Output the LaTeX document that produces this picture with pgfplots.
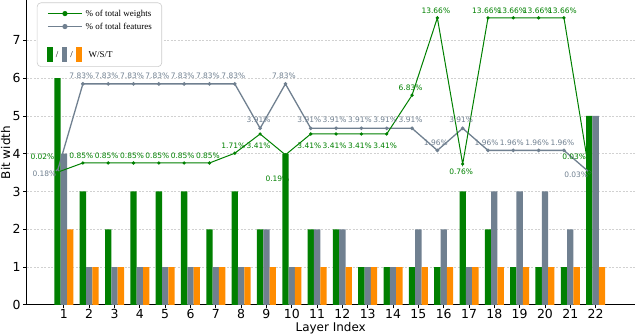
\documentclass[border=0pt]{standalone}
\usepackage{fontspec}
\setmainfont{DejaVu Sans}
\newfontfamily\legfont{Liberation Serif}
\usepackage{pgfplots}
\usepackage{pgfplotstable}
\pgfplotsset{compat=1.18}
\definecolor{wgreen}{HTML}{008000}
\definecolor{sgray}{HTML}{708090}
\definecolor{torange}{HTML}{FF8C00}

% bit widths per layer: W / S / T
\pgfplotstableread{
layer w s t
1  6 4 2
2  3 1 1
3  2 1 1
4  3 1 1
5  3 1 1
6  3 1 1
7  2 1 1
8  3 1 1
9  2 2 1
10 4 1 1
11 2 2 1
12 2 2 1
13 1 1 1
14 1 1 1
15 1 2 1
16 1 2 1
17 3 1 1
18 2 3 1
19 1 3 1
20 1 3 1
21 1 2 1
22 5 5 1
}\bits

% % of total weights, drawn on the bit-width scale
\pgfplotstableread{
x     y
0.75  3.51
1.75  3.755
2.75  3.755
3.75  3.755
4.75  3.755
5.75  3.755
6.75  3.755
7.75  4.013
8.75  4.523
9.75  3.97
10.75 4.523
11.75 4.523
12.75 4.523
13.75 4.523
14.75 5.549
15.75 7.598
16.75 3.728
17.75 7.598
18.75 7.598
19.75 7.598
20.75 7.598
21.75 3.509
}\wtab

% % of total features
\pgfplotstableread{
x     y
0.75  3.55
1.75  5.849
2.75  5.849
3.75  5.849
4.75  5.849
5.75  5.849
6.75  5.849
7.75  5.849
8.75  4.673
9.75  5.849
10.75 4.673
11.75 4.673
12.75 4.673
13.75 4.673
14.75 4.673
15.75 4.088
16.75 4.673
17.75 4.088
18.75 4.088
19.75 4.088
20.75 4.088
21.75 3.509
}\stab

\pgfplotsset{
  lab/.style n args={4}{
    draw=none, mark=none, forget plot,
    nodes near coords, point meta=explicit symbolic,
    every node near coord/.append style={anchor=#2, xshift=#3, yshift=#4,
      inner sep=0pt, font=\fontsize{7.5}{8}\selectfont, text=#1},
  },
}

% legend samples
\newcommand{\lineimg}[1]{\tikz[baseline=-3.2bp]{\draw[#1, line width=1.5bp] (0,0) -- (34bp,0);
  \fill[#1] (17bp,0) circle (2.6bp);}}
\newcommand{\patch}[1]{\textcolor{#1}{\rule[-4.5bp]{5.5bp}{15bp}}}

\begin{document}
\begin{tikzpicture}
\begin{axis}[
  scale only axis,
  width=607bp, height=304bp,
  xmin=-0.463, xmax=23.54,
  ymin=0, ymax=8.06,
  axis x line*=bottom, axis y line*=left,
  axis line style={-, line width=0.8bp, black},
  xtick={1,...,22}, ytick={0,...,7},
  tick align=outside, major tick length=3.5bp,
  tick style={line width=0.8bp, black},
  ymajorgrids,
  grid style={dash pattern=on 2bp off 1.5bp, black!18, line width=0.6bp},
  /pgf/number format/assume math mode=true,
  tick label style={font=\fontsize{12.5}{14}\selectfont},
  xticklabel style={inner sep=1bp},
  yticklabel style={inner sep=2.5bp},
  label style={font=\fontsize{12}{14}\selectfont},
  xlabel={Layer Index},
  ylabel={Bit width},
  xlabel style={at={(axis description cs:0.5,-0.102)}, anchor=south, inner sep=2bp},
  ylabel style={at={(axis description cs:-0.0445,0.5)}, anchor=north, inner sep=1bp},
]
% percentage labels (under the bars)
\addplot[lab={wgreen}{south}{-1.5bp}{4.5bp}] coordinates {
  (1.75,3.755)[0.85\%] (2.75,3.755)[0.85\%] (3.75,3.755)[0.85\%]
  (4.75,3.755)[0.85\%] (5.75,3.755)[0.85\%] (6.75,3.755)[0.85\%]
  (7.75,4.013)[1.71\%] (14.75,5.549)[6.83\%] (15.75,7.598)[13.66\%]
  (17.75,7.598)[13.66\%] (18.75,7.598)[13.66\%] (19.75,7.598)[13.66\%]
  (20.75,7.598)[13.66\%]};
\addplot[lab={wgreen}{north}{-1.5bp}{-8.5bp}] coordinates {
  (8.75,4.523)[3.41\%] (10.75,4.523)[3.41\%] (11.75,4.523)[3.41\%]
  (12.75,4.523)[3.41\%] (13.75,4.523)[3.41\%]};
\addplot[lab={wgreen}{north}{-1.5bp}{-5bp}] coordinates {(16.75,3.728)[0.76\%]};
\addplot[lab={wgreen}{north}{-8bp}{-20.5bp}] coordinates {(9.75,3.97)[0.19\%]};
\addplot[lab={wgreen}{east}{-3bp}{15bp}] coordinates {(0.75,3.51)[0.02\%] (21.75,3.509)[0.03\%]};
\addplot[lab={sgray}{south}{-1.5bp}{5bp}] coordinates {
  (1.75,5.849)[7.83\%] (2.75,5.849)[7.83\%] (3.75,5.849)[7.83\%]
  (4.75,5.849)[7.83\%] (5.75,5.849)[7.83\%] (6.75,5.849)[7.83\%]
  (7.75,5.849)[7.83\%] (8.75,4.673)[3.91\%] (9.75,5.849)[7.83\%]
  (10.75,4.673)[3.91\%] (11.75,4.673)[3.91\%] (12.75,4.673)[3.91\%]
  (13.75,4.673)[3.91\%] (14.75,4.673)[3.91\%] (15.75,4.088)[1.96\%]
  (16.75,4.673)[3.91\%] (17.75,4.088)[1.96\%] (18.75,4.088)[1.96\%]
  (19.75,4.088)[1.96\%] (20.75,4.088)[1.96\%]};
\addplot[lab={sgray}{east}{-1bp}{-3bp}] coordinates {(0.75,3.55)[0.18\%] (21.75,3.509)[0.03\%]};

% bars
\addplot[ybar, bar width=0.25, bar shift=-0.25, fill=wgreen, draw=none, forget plot] table[x=layer, y=w] {\bits};
\addplot[ybar, bar width=0.25, bar shift=0, fill=sgray, draw=none, forget plot] table[x=layer, y=s] {\bits};
\addplot[ybar, bar width=0.25, bar shift=0.25, fill=torange, draw=none, forget plot] table[x=layer, y=t] {\bits};

% lines
\addplot[sgray, line width=1.3bp, mark=*, mark size=1.1bp, forget plot] table[x=x, y=y] {\stab};
\addplot[wgreen, line width=1bp, mark=*, mark size=1.1bp, forget plot] table[x=x, y=y] {\wtab};

% legend box
\node[anchor=north west, xshift=10bp, yshift=-2bp, draw=black!20, line width=0.6bp,
  rounded corners=4bp, fill=white, inner xsep=10bp, inner ysep=5bp,
  font=\legfont\fontsize{9}{10}\selectfont] at (axis description cs:0,1) {%
  \renewcommand{\arraystretch}{1.3}%
  \begin{tabular}{@{}l@{\hspace{3bp}}l@{}}
  \lineimg{wgreen} & \% of total weights\\
  \lineimg{sgray} & \% of total features\\[13bp]
  \patch{wgreen}\makebox[9bp]{/}\patch{sgray}\makebox[9bp]{/}\patch{torange} & \hspace{3bp}W/S/T
  \end{tabular}};
\end{axis}
\end{tikzpicture}
\end{document}
